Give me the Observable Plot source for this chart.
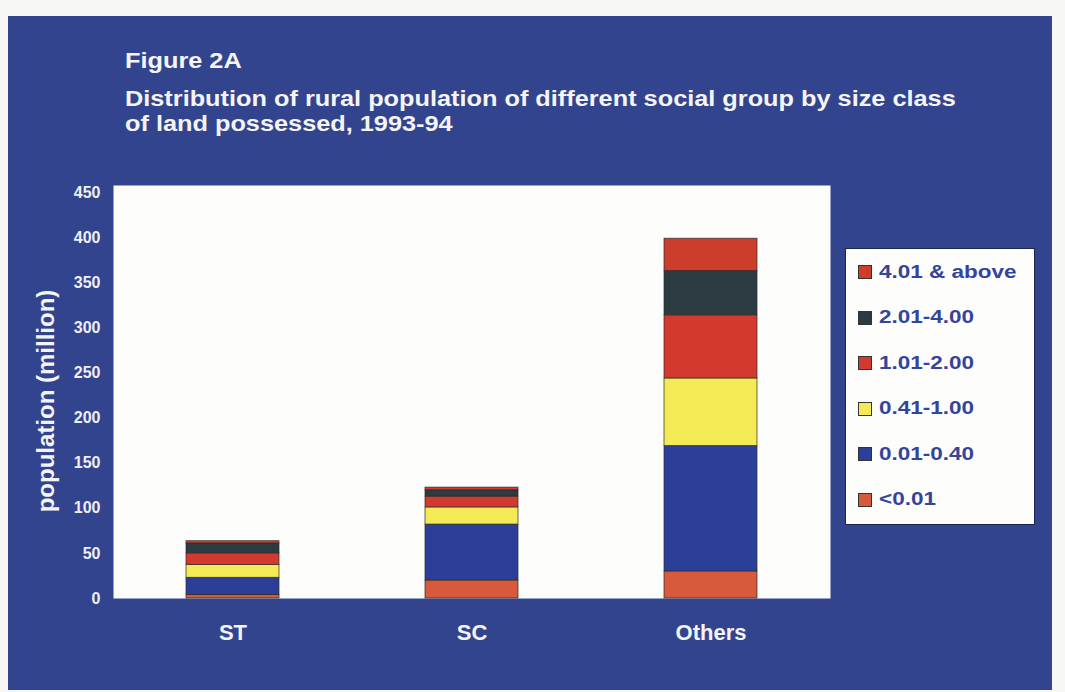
<!DOCTYPE html>
<html>
<head>
<meta charset="utf-8">
<script src="https://cdn.jsdelivr.net/npm/d3@7"></script>
<script src="https://cdn.jsdelivr.net/npm/@observablehq/plot@0.6"></script>
<style>
  html, body { margin: 0; padding: 0; background: #f7f7f5; }
  body { width: 1065px; height: 692px; position: relative; overflow: hidden;
         font-family: "Liberation Sans", Arial, sans-serif; }
  #panel { position: absolute; left: 8px; top: 16px; width: 1044px; height: 674px; background: #33448f; }
  .t { position: absolute; color: #f4f4f4; font-weight: bold; white-space: nowrap;
       transform: scaleX(1.15); transform-origin: left top; }
  #chart { position: absolute; left: 0; top: 170px; }
  #legend { position: absolute; left: 845px; top: 248px; width: 190px; height: 277px;
            background: #fdfdfb; border: 1px solid #1d2450; box-sizing: border-box; }
  .item { position: absolute; left: 12px; height: 20px; display: flex; align-items: center; }
  .sw { width: 12px; height: 12px; border: 1px solid #333; margin-right: 7px; flex: none; }
  .lab { display: inline-block; font-size: 18px; font-weight: bold; color: #33449a;
         transform: scaleX(1.25); transform-origin: left center; white-space: nowrap; }
</style>
</head>
<body>
<div id="panel"></div>
<div class="t" style="left:125px; top:50px; font-size:22px; line-height:22px;">Figure 2A</div>
<div class="t" style="left:125px; top:86px; font-size:22px; line-height:25px;">Distribution of rural population of different social group by size class<br>of land possessed, 1993-94</div>
<div id="chart"></div>
<div id="legend"></div>
<script>
// ---- data (million persons), stacked bottom to top ----
const groups = ["ST", "SC", "Others"];
const sizeClasses = ["<0.01", "0.01-0.40", "0.41-1.00", "1.01-2.00", "2.01-4.00", "4.01 & above"];
const classColors = ["#d85a3c", "#2b3f98", "#f4ea55", "#d3392f", "#2c3a42", "#cc3d2c"];
const ST = [4, 19, 14, 13, 11, 2.5];
const SC = [20, 62, 19, 12, 7, 3];
const Others = [30, 139, 75, 70, 49, 36];
const yTicks = [0, 50, 100, 150, 200, 250, 300, 350, 400, 450];
const yTitle = "population (million)";

const seriesByGroup = {ST, SC, Others};
const rows = [];
for (const g of groups) {
  sizeClasses.forEach((c, i) => rows.push({group: g, cls: c, value: seriesByGroup[g][i]}));
}

const chart = Plot.plot({
  width: 860,
  height: 478,
  marginLeft: 113,
  marginRight: 30,
  marginTop: 15,
  marginBottom: 50,
  style: {fontFamily: "Liberation Sans, Arial, sans-serif", background: "transparent"},
  x: {domain: groups, paddingInner: 0.61, paddingOuter: 0.305, label: null},
  y: {domain: [0, 458], label: null},
  color: {domain: sizeClasses, range: classColors},
  marks: [
    Plot.frame({fill: "#fdfdfb", stroke: null}),
    Plot.barY(rows, {x: "group", y: "value", fill: "cls", stroke: "#2a2a2a", strokeWidth: 0.7}),
    Plot.axisY({ticks: yTicks, tickSize: 0, tickPadding: 13, fontSize: 16, fontWeight: "bold", fill: "#eeeef4", label: null}),
    Plot.axisX({tickSize: 0, tickPadding: 26, fontSize: 22, fontWeight: "bold", fill: "#f4f4f4", label: null}),
    Plot.text([yTitle], {frameAnchor: "left", textAnchor: "middle", rotate: -90, dx: -67, dy: 9, fontSize: 24, fontWeight: "bold", fill: "#f4f4f4", text: d => d})
  ]
});
document.getElementById("chart").appendChild(chart);

// ---- legend (top to bottom = reverse stack order) ----
const legend = document.getElementById("legend");
const order = sizeClasses.map((c, i) => i).reverse();
order.forEach((i, k) => {
  const it = document.createElement("div");
  it.className = "item";
  it.style.top = (13 + k * 45.5) + "px";
  const sw = document.createElement("div");
  sw.className = "sw";
  sw.style.background = classColors[i];
  const lab = document.createElement("span");
  lab.className = "lab";
  lab.textContent = sizeClasses[i];
  it.appendChild(sw); it.appendChild(lab);
  legend.appendChild(it);
});
</script>
</body>
</html>
